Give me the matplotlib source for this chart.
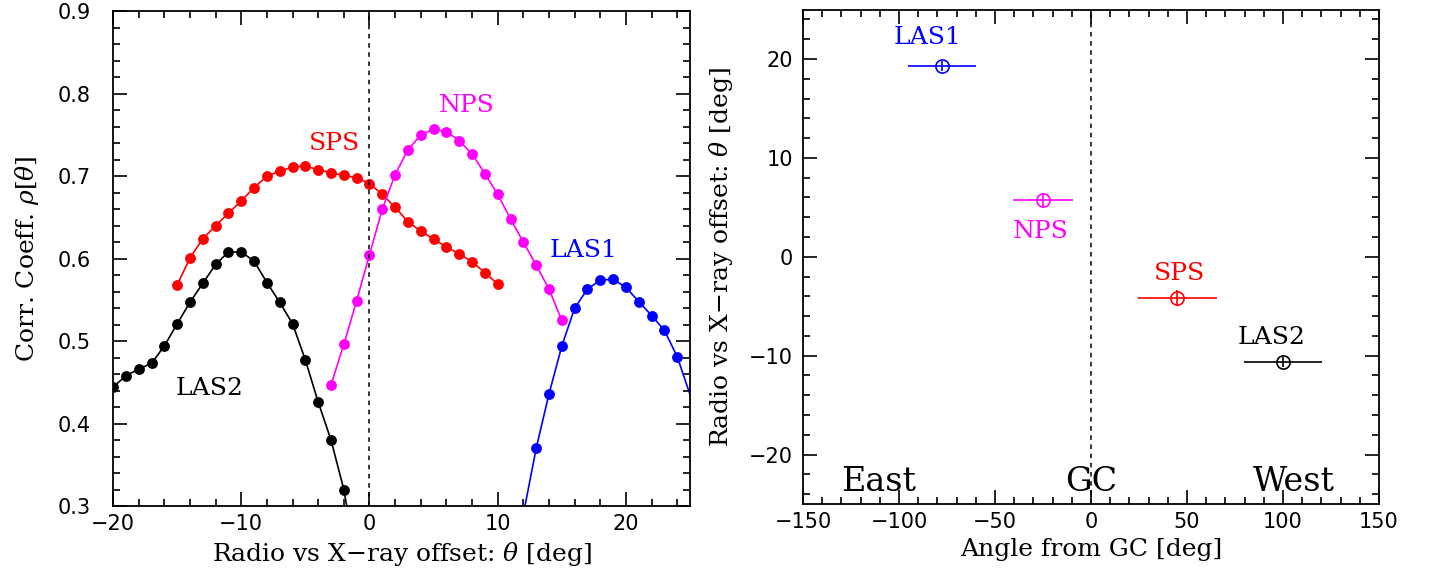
import numpy as np
import matplotlib
matplotlib.use("Agg")
import matplotlib.pyplot as plt
from matplotlib.ticker import MultipleLocator

# ---- left panel: correlation coefficient vs offset ----
las2_theta = np.arange(-20, 0)
las2_rho = [0.444, 0.458, 0.466, 0.473, 0.494, 0.521, 0.547, 0.570, 0.593, 0.608,
            0.608, 0.597, 0.571, 0.547, 0.521, 0.477, 0.426, 0.380, 0.320, 0.230]

sps_theta = np.arange(-15, 11)
sps_rho = [0.568, 0.601, 0.624, 0.640, 0.655, 0.670, 0.686, 0.700, 0.706, 0.711,
           0.712, 0.708, 0.704, 0.701, 0.698, 0.691, 0.678, 0.662, 0.645, 0.633,
           0.624, 0.614, 0.606, 0.596, 0.583, 0.569]

nps_theta = np.arange(-3, 16)
nps_rho = [0.447, 0.496, 0.549, 0.605, 0.660, 0.702, 0.732, 0.750, 0.757, 0.754,
           0.743, 0.727, 0.703, 0.678, 0.648, 0.620, 0.592, 0.563, 0.525]

las1_theta = np.arange(12, 26)
las1_rho = [0.290, 0.370, 0.436, 0.494, 0.540, 0.563, 0.574, 0.575, 0.565, 0.548,
            0.531, 0.513, 0.481, 0.435]

# ---- right panel: best offset vs angle from GC ----
names = ["LAS1", "NPS", "SPS", "LAS2"]
angle = [-77.6, -25.0, 45.0, 100.0]
angle_err = [17.7, 15.6, 20.5, 20.3]
offset = [19.3, 5.7, -4.2, -10.6]
offset_err = [0.5, 0.7, 0.8, 0.5]

colors = {"LAS1": "#0000ff", "NPS": "#ff00ff", "SPS": "#ff0000", "LAS2": "black"}

serif = "DejaVu Serif"
plt.rcParams["font.family"] = "DejaVu Sans"
plt.rcParams["mathtext.fontset"] = "dejavuserif"
plt.rcParams["axes.linewidth"] = 1.3

fig = plt.figure(figsize=(14.29, 5.76), dpi=100)
ax1 = fig.add_axes([0.0791, 0.1215, 0.4038, 0.859])
ax2 = fig.add_axes([0.5619, 0.125, 0.4031, 0.8585])

xlim1 = (-20, 25)
ylim1 = (0.3, 0.9)

curves = [
    ("LAS2", las2_theta, las2_rho),
    ("SPS", sps_theta, sps_rho),
    ("NPS", nps_theta, nps_rho),
    ("LAS1", las1_theta, las1_rho),
]
for name, th, rho in curves:
    th = np.asarray(th)
    rho = np.asarray(rho)
    ax1.plot(th, rho, "-", color=colors[name], lw=1.2)
    # symbols only where they fall inside the plot box
    inside = (th >= xlim1[0]) & (th < xlim1[1]) & (rho >= ylim1[0]) & (rho <= ylim1[1])
    ax1.plot(th[inside], rho[inside], "o", color=colors[name], ms=7.8, mew=0)

ax1.axvline(0, color="black", ls=(0, (3, 3)), lw=1.1)

lab = dict(fontsize=18, family=serif, ha="center", va="center")
ax1.text(-2.7, 0.74, "SPS", color=colors["SPS"], **lab)
ax1.text(7.6, 0.786, "NPS", color=colors["NPS"], **lab)
ax1.text(16.7, 0.61, "LAS1", color=colors["LAS1"], **lab)
ax1.text(-12.5, 0.443, "LAS2", color=colors["LAS2"], **lab)

ax1.set_xlim(*xlim1)
ax1.set_ylim(*ylim1)
ax1.xaxis.set_major_locator(MultipleLocator(10))
ax1.xaxis.set_minor_locator(MultipleLocator(2))
ax1.yaxis.set_major_locator(MultipleLocator(0.1))
ax1.yaxis.set_minor_locator(MultipleLocator(0.02))
ax1.yaxis.set_major_formatter(plt.FormatStrFormatter("%.1f"))
ax1.set_xlabel(r"Radio vs X$-$ray offset: $\theta$ [deg]", family=serif, fontsize=18, labelpad=4)
ax1.set_ylabel(r"Corr. Coeff. $\rho[\theta]$", family=serif, fontsize=18, labelpad=12)

# right panel
for i, name in enumerate(names):
    c = colors[name]
    ax2.errorbar(angle[i], offset[i], xerr=angle_err[i], yerr=offset_err[i],
                 fmt="o", mfc="none", mec=c, color=c, ms=9.5, mew=1.2,
                 elinewidth=1.2, capsize=0)

ax2.axvline(0, color="black", ls=(0, (3, 3)), lw=1.1)

ax2.text(-85, 22.2, "LAS1", color=colors["LAS1"], **lab)
ax2.text(-26.4, 2.6, "NPS", color=colors["NPS"], **lab)
ax2.text(46, -1.7, "SPS", color=colors["SPS"], **lab)
ax2.text(94, -8.2, "LAS2", color=colors["LAS2"], **lab)

big = dict(fontsize=24, family=serif, ha="center", va="center")
ax2.text(-110.6, -22.8, "East", **big)
ax2.text(0, -22.8, "GC", **big)
ax2.text(105.6, -22.8, "West", **big)

ax2.set_xlim(-150, 150)
ax2.set_ylim(-25, 25)
ax2.xaxis.set_major_locator(MultipleLocator(50))
ax2.xaxis.set_minor_locator(MultipleLocator(10))
ax2.yaxis.set_major_locator(MultipleLocator(10))
ax2.yaxis.set_minor_locator(MultipleLocator(2))
ax2.set_xlabel("Angle from GC [deg]", family=serif, fontsize=18, labelpad=4)
ax2.set_ylabel(r"Radio vs X$-$ray offset: $\theta$ [deg]", family=serif, fontsize=18, labelpad=10)

for ax in (ax1, ax2):
    ax.tick_params(which="both", direction="in", top=True, right=True, width=1.2)
    ax.tick_params(which="major", length=10, labelsize=15)
    ax.tick_params(which="minor", length=5)
    ax.tick_params(axis="x", which="major", pad=6)
ax1.tick_params(axis="y", which="major", pad=16)
ax2.tick_params(axis="y", which="major", pad=7)

fig.savefig("out.png", dpi=100)
